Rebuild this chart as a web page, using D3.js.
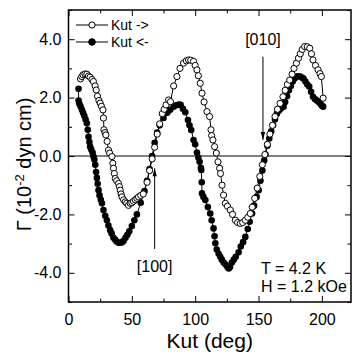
<!DOCTYPE html>
<html><head><meta charset="utf-8">
<script src="https://cdn.jsdelivr.net/npm/d3@7"></script>
<style>body{margin:0;background:#fff}svg{display:block}text{font-family:"Liberation Sans",Arial,sans-serif;fill:#000}</style>
</head><body><svg id="c" width="352" height="354"></svg>
<script>
const xTicks=[0,25,50,75,100,125,150,175,200];
const xLabels=[0,50,100,150,200];
const yTicks=[-5,-4,-3,-2,-1,0,1,2,3,4,5];
const yLabels=[-4,-2,0,2,4];
const seriesNames=["Kut ->","Kut <-"];
// Kut -> (open circles)
const kutFwdX=[9.5,10.5,11.5,13,14.5,15.8,17,18.5,19.7,21,21.9,22.9,24,25,26,27.2,27.6,28,28.8,29.5,30.5,31.6,32.5,34.3,35,35.5,36.2,36.9,38,39.5,40.2,40.8,41.5,42.2,43.5,44.8,46,47.4,48.7,50,51.3,52.7,54,55.3,57,59,62,64,66,68,70,72,74,75.5,77,79,80.5,83,85.6,88,90.8,93,94.8,96.5,98.7,100,101.4,102.5,104,105.4,107,109.3,111.4,112.5,113,114,115.3,116.7,118,119.3,120,121.2,122.4,123.8,125.5,127.7,129.5,131.7,133.5,135.6,137.5,139.6,141.5,143.5,145,147,149,151,153,155,157,159,161,163,165,167,169.3,171,172.8,174.6,176.5,178,179.9,181.5,183,184.5,186.4,188.5,190.4,191.8,193,195,197,198.5,199.6,201];
const kutFwdY=[2.64,2.72,2.78,2.81,2.8,2.74,2.7,2.62,2.55,2.4,2.26,2.05,1.9,1.81,1.7,1.58,1.3,0.9,0.8,0.72,0.5,0.2,0.1,-0.02,-0.25,-0.42,-0.6,-0.77,-0.85,-0.94,-1.05,-1.17,-1.3,-1.4,-1.5,-1.57,-1.62,-1.69,-1.62,-1.6,-1.55,-1.5,-1.45,-1.4,-1.35,-1.3,-0.9,-0.5,-0.1,0.3,0.75,1.1,1.45,1.6,1.75,1.92,1.86,2.4,2.72,3.0,3.18,3.26,3.29,3.28,3.24,3.1,2.95,2.75,2.49,2.15,1.85,1.52,1.35,0.9,0.7,0.55,0.32,0.1,-0.2,-0.42,-0.6,-1.0,-1.34,-1.62,-1.72,-1.85,-2.0,-2.2,-2.28,-2.31,-2.28,-2.2,-2.1,-1.97,-1.75,-1.45,-1.1,-0.7,-0.3,0.05,0.4,0.75,1.05,1.35,1.6,1.8,2.03,2.25,2.45,2.6,2.8,3.0,3.18,3.35,3.5,3.65,3.75,3.74,3.69,3.5,3.29,3.1,2.95,2.82,2.72,1.98];
// Kut <- (filled circles)
const kutBackX=[7.9,8.0,8.5,9.5,10.6,11.5,12.5,13.5,14.5,15.2,15.8,16.5,17.1,18,19,19.7,20.4,21.1,21.8,22.4,23,23.7,24.5,25.5,26.4,27.6,29,30.3,31.5,32.9,34,35.5,36.9,38,39.5,41,42.3,43.5,45,46.5,48,50,52,54,57,60,62,64,66,68,70,72,75,78,80.3,83,85,87,88.5,90.3,92.2,94.3,95.5,96.9,98.7,100,101.4,102.5,103.5,104.5,104.8,105.2,105.4,106.5,108,110,111.9,113,114.5,115.3,115.9,117,118.5,119.8,121,122.5,124,125.5,126.5,127.5,129,130.5,132,134.3,136,137.8,139.6,141.5,143,144.9,146.5,148.5,150.1,151.5,153,154.5,155.5,157,158.5,160,161.5,163,164.5,166,167.5,169.8,171,172.5,174,175.5,177,178.5,180,181.5,183,184.5,185.5,187,188.5,190,191.5,193,194.5,196,197.5,199,200,201];
const kutBackY=[2.3,1.9,1.8,1.7,1.58,1.48,1.38,1.25,1.12,0.9,0.66,0.48,0.32,0.22,0.12,-0.02,-0.12,-0.3,-0.55,-0.75,-0.95,-1.17,-1.35,-1.5,-1.62,-1.85,-2.05,-2.2,-2.38,-2.54,-2.65,-2.8,-2.87,-2.93,-2.97,-2.97,-2.95,-2.9,-2.8,-2.7,-2.58,-2.4,-2.2,-2.0,-1.6,-1.2,-0.85,-0.45,0.0,0.45,0.8,1.05,1.3,1.48,1.58,1.69,1.74,1.76,1.75,1.62,1.5,1.23,1.05,0.89,0.55,0.4,0.12,-0.05,-0.2,-0.4,-0.48,-0.9,-1.28,-1.4,-1.51,-1.75,-1.97,-2.2,-2.48,-2.75,-2.99,-3.2,-3.35,-3.45,-3.55,-3.65,-3.72,-3.8,-3.85,-3.8,-3.65,-3.55,-3.45,-3.3,-3.1,-2.95,-2.77,-2.5,-2.25,-1.97,-1.7,-1.4,-1.17,-0.85,-0.5,-0.15,0.05,0.35,0.6,0.85,1.05,1.25,1.45,1.55,1.62,1.69,1.85,2.05,2.25,2.4,2.55,2.65,2.72,2.73,2.72,2.68,2.65,2.55,2.45,2.38,2.2,2.03,1.95,1.9,1.85,1.78,1.72,1.69];
const annotations=[{text:"[010]",x:153.5,yFrom:3.4,yTo:0.55,dir:"down"},{text:"[100]",x:68,yFrom:-3.18,yTo:-0.42,dir:"up"}];
const infoLines=["T = 4.2 K","H = 1.2 kOe"];

const svg=d3.select("#c");
const L=68.5,R=351,T=10,B=302;
const x=d3.scaleLinear().domain([0,223]).range([L,R]);
const y=d3.scaleLinear().domain([-5,5]).range([B,T]);
const fmtY=d=>d.toFixed(1);

function tickLen(isMajor){return isMajor?6:3.5;}
const gx=svg.append("g").attr("transform",`translate(0,${B})`);
gx.call(d3.axisBottom(x).tickValues(xTicks).tickSizeInner(-6).tickSizeOuter(0).tickFormat(d=>xLabels.includes(d)?d:""));
gx.selectAll(".tick line").attr("y2",d=>-tickLen(d%50===0));
gx.selectAll(".tick text").attr("y",12).attr("font-size",16);
const gt=svg.append("g").attr("transform",`translate(0,${T})`);
gt.call(d3.axisTop(x).tickValues(xTicks).tickSizeInner(-6).tickSizeOuter(0).tickFormat(""));
gt.selectAll(".tick line").attr("y2",d=>tickLen(d%50===0));
const gy=svg.append("g").attr("transform",`translate(${L},0)`);
gy.call(d3.axisLeft(y).tickValues(yTicks).tickSizeInner(-6).tickSizeOuter(0).tickFormat(d=>yLabels.includes(d)?fmtY(d):""));
gy.selectAll(".tick line").attr("x2",d=>tickLen(d%2===0));
gy.selectAll(".tick text").attr("x",-7).attr("font-size",16);
const gr=svg.append("g").attr("transform",`translate(${R},0)`);
gr.call(d3.axisRight(y).tickValues(yTicks).tickSizeInner(-6).tickSizeOuter(0).tickFormat(""));
gr.selectAll(".tick line").attr("x2",d=>-tickLen(d%2===0));
svg.selectAll(".domain").remove();
svg.selectAll("g").attr("font-family",null);
svg.selectAll(".tick line").attr("stroke","#000").attr("stroke-width",1);
svg.append("rect").attr("x",L).attr("y",T).attr("width",R-L).attr("height",B-T).attr("fill","none").attr("stroke","#000").attr("stroke-width",1.5);

svg.append("line").attr("x1",L).attr("x2",R).attr("y1",y(0)).attr("y2",y(0)).attr("stroke","#000").attr("stroke-width",1);

const line=d3.line().x(d=>x(d[0])).y(d=>y(d[1]));
const fwd=kutFwdX.map((v,i)=>[v,kutFwdY[i]]);
const back=kutBackX.map((v,i)=>[v,kutBackY[i]]);
svg.append("path").datum(back).attr("d",line).attr("fill","none").attr("stroke","#000").attr("stroke-width",1);
svg.append("path").datum(fwd).attr("d",line).attr("fill","none").attr("stroke","#000").attr("stroke-width",1);
svg.append("g").selectAll("circle").data(back).join("circle").attr("cx",d=>x(d[0])).attr("cy",d=>y(d[1])).attr("r",3.3).attr("fill","#000");
svg.append("g").selectAll("circle").data(fwd).join("circle").attr("cx",d=>x(d[0])).attr("cy",d=>y(d[1])).attr("r",3.1).attr("fill","#fff").attr("stroke","#000").attr("stroke-width",1);

const lg=svg.append("g");
seriesNames.forEach((n,i)=>{
  const yy=25+i*17;
  lg.append("line").attr("x1",76).attr("x2",108).attr("y1",yy).attr("y2",yy).attr("stroke","#000").attr("stroke-width",1);
  lg.append("circle").attr("cx",92).attr("cy",yy).attr("r",i===0?3.1:3.3).attr("fill",i===0?"#fff":"#000").attr("stroke","#000").attr("stroke-width",1);
  lg.append("text").attr("x",111).attr("y",yy+5).attr("font-size",14).text(n);
});

annotations.forEach(a=>{
  const xx=x(a.x);
  svg.append("line").attr("x1",xx).attr("x2",xx).attr("y1",y(a.yFrom)).attr("y2",y(a.yTo)).attr("stroke","#000").attr("stroke-width",1);
  const tip=y(a.yTo), s=a.dir==="down"?-1:1;
  svg.append("path").attr("d",`M${xx},${tip} L${xx-2.2},${tip+s*8} L${xx+2.2},${tip+s*8} Z`).attr("fill","#000");
  if(a.dir==="down") svg.append("text").attr("x",xx).attr("y",y(a.yFrom)-12).attr("text-anchor","middle").attr("font-size",16).text(a.text);
  else svg.append("text").attr("x",xx).attr("y",y(a.yFrom)+23).attr("text-anchor","middle").attr("font-size",16).text(a.text);
});
infoLines.forEach((t,i)=>svg.append("text").attr("x",261).attr("y",274+i*18).attr("font-size",16).text(t));

svg.append("text").attr("x",x(111.5)).attr("y",348).attr("text-anchor","middle").attr("font-size",21).text("Kut (deg)");
const yt=svg.append("text").attr("transform",`translate(31,${y(-0.29)}) rotate(-90)`).attr("text-anchor","middle").attr("font-size",20);
yt.append("tspan").text("Γ (10");
yt.append("tspan").attr("dy",-7).attr("font-size",13).text("-2");
yt.append("tspan").attr("dy",7).text(" dyn cm)");
</script></body></html>
